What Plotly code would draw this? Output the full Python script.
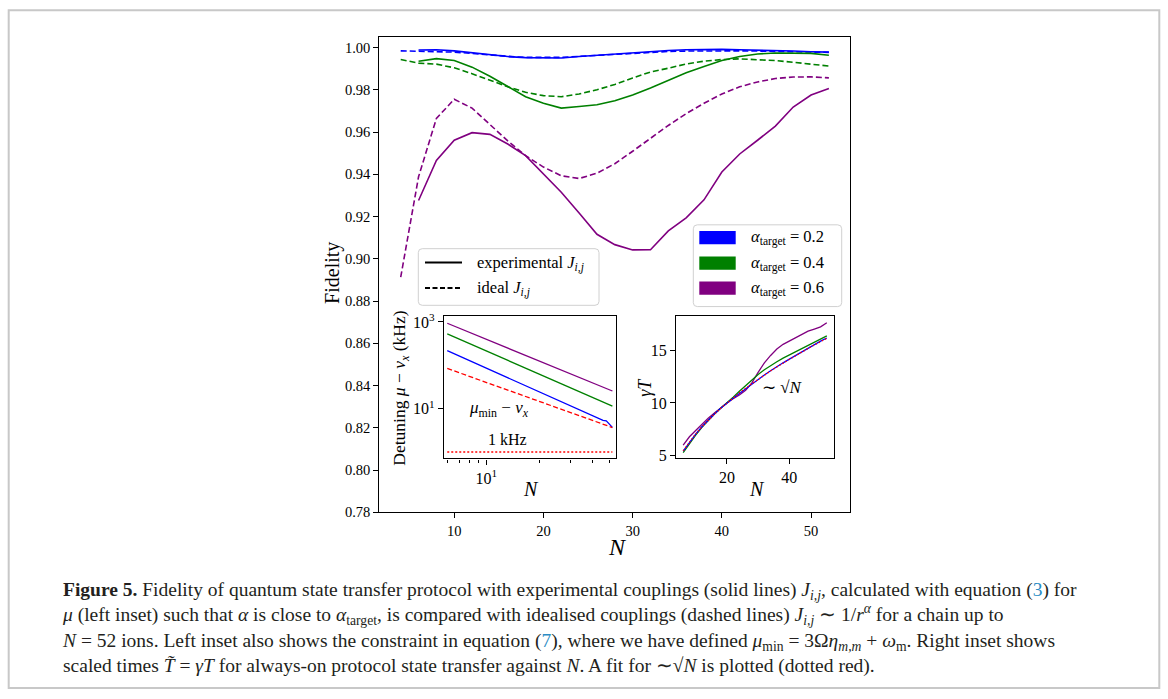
import plotly.graph_objects as go

W, H = 1168, 699

# ---------------- data ----------------
# chain lengths
N_ideal = [4, 6, 8, 10, 12, 14, 16, 18, 20, 22, 24, 26, 28, 30, 32, 34, 36, 38, 40, 42, 44, 46, 48, 50, 52]
N_exp = [6, 8, 10, 12, 14, 16, 18, 20, 22, 24, 26, 28, 30, 32, 34, 36, 38, 40, 42, 44, 46, 48, 50, 52]

# fidelity, experimental couplings (solid)
fid_exp_02 = [0.9988, 0.9989, 0.9984, 0.9974, 0.9964, 0.9957, 0.9952, 0.9950, 0.9950, 0.9957, 0.9963, 0.9971,
              0.9977, 0.9983, 0.9986, 0.9989, 0.9991, 0.9991, 0.9989, 0.9988, 0.9986, 0.9983, 0.9980, 0.9978]
fid_exp_04 = [0.9935, 0.9947, 0.9938, 0.9907, 0.9864, 0.9814, 0.9767, 0.9736, 0.9713, 0.9721, 0.9729, 0.9748,
              0.9775, 0.9808, 0.9845, 0.9880, 0.9910, 0.9938, 0.9957, 0.9969, 0.9974, 0.9974, 0.9972, 0.9963]
fid_exp_06 = [0.9276, 0.9465, 0.9561, 0.9597, 0.9589, 0.9543, 0.9488, 0.9403, 0.9315, 0.9217, 0.9116, 0.9067,
              0.9042, 0.9043, 0.9132, 0.9194, 0.9279, 0.9411, 0.9496, 0.9561, 0.9628, 0.9718, 0.9775, 0.9806]

# fidelity, ideal 1/r^alpha couplings (dashed)
fid_ideal_02 = [0.9984, 0.9983, 0.9981, 0.9978, 0.9972, 0.9964, 0.9958, 0.9953, 0.9952, 0.9953, 0.9958, 0.9963,
                0.9969, 0.9974, 0.9978, 0.9981, 0.9983, 0.9984, 0.9984, 0.9984, 0.9983, 0.9982, 0.9981, 0.9980, 0.9977]
fid_ideal_04 = [0.9943, 0.9926, 0.9921, 0.9904, 0.9876, 0.9845, 0.9814, 0.9788, 0.9772, 0.9767, 0.9780, 0.9800,
                0.9825, 0.9856, 0.9884, 0.9902, 0.9922, 0.9935, 0.9943, 0.9946, 0.9943, 0.9938, 0.9930, 0.9922, 0.9912]
fid_ideal_06 = [0.8913, 0.9388, 0.9664, 0.9755, 0.9713, 0.9636, 0.9558, 0.9488, 0.9434, 0.9393, 0.9380, 0.9405,
                0.9450, 0.9509, 0.9571, 0.9631, 0.9687, 0.9736, 0.9780, 0.9814, 0.9837, 0.9853, 0.9860, 0.9861, 0.9856]

# left inset: detuning mu - nu_x (kHz)
det_02 = [217, 128, 84.9, 60.8, 45.8, 35.9, 28.9, 23.8, 20.0, 17.1, 14.7, 12.9,
          11.3, 10.1, 9.0, 8.1, 7.35, 6.68, 6.11, 5.61, 5.35, 5.2, 4.3, 3.7]
det_04 = [531, 318, 214, 155, 117, 92.7, 75.2, 62.3, 52.6, 45.0, 39.1, 34.2,
          30.3, 27.0, 24.2, 21.9, 19.9, 18.1, 16.6, 15.3, 14.2, 13.1, 12.2, 11.4]
det_06 = [933, 578, 398, 294, 227, 182, 150, 125, 107, 92.7, 81.1, 71.6,
          63.8, 57.3, 51.8, 47.1, 43.0, 39.5, 36.5, 33.7, 31.3, 29.2, 27.2, 25.5]
mu_min = [84.5, 55.6, 40.3, 30.9, 24.6, 20.3, 17.1, 14.7, 12.8, 11.3, 10.0, 9.02,
          8.15, 7.42, 6.79, 6.25, 5.78, 5.36, 5.00, 4.67, 4.38, 4.11, 3.88, 3.66]
one_khz = [1.0] * len(N_exp)

# right inset: scaled transfer time gamma*T
gT_02 = [5.45, 6.30, 7.05, 7.75, 8.38, 8.95, 9.50, 10.0, 10.45, 10.9, 11.35, 11.8,
         12.25, 12.65, 13.05, 13.45, 13.8, 14.15, 14.5, 14.85, 15.2, 15.5, 15.85, 16.15]
gT_04 = [5.3, 6.15, 6.95, 7.7, 8.35, 8.95, 9.5, 10.0, 10.55, 11.1, 11.65, 12.2,
         12.7, 13.15, 13.55, 13.9, 14.25, 14.55, 14.85, 15.1, 15.4, 15.7, 16.0, 16.35]
gT_06 = [6.0, 6.8, 7.4, 8.0, 8.55, 9.05, 9.55, 10.0, 10.4, 10.75, 11.2, 11.9,
         12.9, 13.8, 14.5, 15.1, 15.55, 15.85, 16.15, 16.45, 16.8, 17.0, 17.2, 17.6]
gT_fit = [5.48, 6.32, 7.07, 7.75, 8.37, 8.94, 9.49, 10.0, 10.49, 10.95, 11.40, 11.83,
          12.25, 12.65, 13.04, 13.42, 13.78, 14.14, 14.49, 14.83, 15.17, 15.49, 15.81, 16.12]

alpha_labels = ["0.2", "0.4", "0.6"]
fid_ticks = [0.78, 0.80, 0.82, 0.84, 0.86, 0.88, 0.90, 0.92, 0.94, 0.96, 0.98, 1.00]
N_ticks = [10, 20, 30, 40, 50]

BLUE, GREEN, PURPLE, RED = "#0000ff", "#008000", "#800080", "#ff0000"
FONT = "Liberation Serif"


def px(x):
    return x / W


def py(y):
    return 1 - y / H


fig = go.Figure()


def line(x, y, color, axes, dash="solid", width=1.6):
    fig.add_trace(go.Scatter(x=x, y=y, mode="lines", xaxis=axes[0], yaxis=axes[1],
                             line=dict(color=color, width=width, dash=dash),
                             showlegend=False, hoverinfo="skip"))


# main panel
main = ("x", "y")
for exp, ideal, c in [(fid_exp_02, fid_ideal_02, BLUE), (fid_exp_04, fid_ideal_04, GREEN),
                      (fid_exp_06, fid_ideal_06, PURPLE)]:
    line(N_exp, exp, c, main)
    line(N_ideal, ideal, c, main, dash="6px,3px")

# left inset
left = ("x2", "y2")
for d, c in [(det_06, PURPLE), (det_04, GREEN), (det_02, BLUE)]:
    line(N_exp, d, c, left, width=1.3)
line(N_exp, mu_min, RED, left, dash="5px,2.5px", width=1.3)
line(N_exp, one_khz, RED, left, dash="2px,2px", width=1.6)

# right inset
right = ("x3", "y3")
for g, c in [(gT_06, PURPLE), (gT_04, GREEN), (gT_02, BLUE)]:
    line(N_exp, g, c, right, width=1.3)
line(N_exp, gT_fit, RED, right, dash="1.5px,2px", width=1.3)

axis_common = dict(showline=True, linecolor="black", linewidth=1.2, mirror=True, ticks="outside",
                   ticklen=5, tickwidth=1, tickcolor="black", showgrid=False, zeroline=False)
main_tick = dict(family=FONT, size=14.5, color="black")
inset_tick = dict(family=FONT, size=16, color="black")

fig.update_layout(
    width=W, height=H, margin=dict(l=0, r=0, t=0, b=0),
    font=dict(family=FONT, color="black"),
    paper_bgcolor="white", plot_bgcolor="white", showlegend=False,
    xaxis=dict(axis_common, domain=[px(379.3), px(850.3)], range=[1.6, 54.4],
               tickvals=N_ticks, anchor="y", tickfont=main_tick),
    yaxis=dict(axis_common, domain=[py(517), py(32.3)], range=[0.78, 1.0051],
               tickvals=fid_ticks, ticktext=[f"{v:.2f}" for v in fid_ticks], anchor="x",
               tickfont=main_tick),
    xaxis2=dict(axis_common, type="log", domain=[px(444), px(616)], range=[0.7597, 1.7364],
                tickvals=[10], ticktext=["10<sup>1</sup>"], anchor="y2", tickfont=inset_tick,
                minor=dict(tickvals=[6, 7, 8, 9, 20, 30, 40, 50], ticks="outside", ticklen=3,
                           tickcolor="black", tickwidth=0.8)),
    yaxis2=dict(axis_common, type="log", domain=[py(462), py(317)], range=[-0.149, 3.135],
                tickvals=[10, 1000], ticktext=["10<sup>1</sup>", "10<sup>3</sup>"], anchor="x2",
                tickfont=inset_tick),
    xaxis3=dict(axis_common, domain=[px(676), px(834)], range=[3.7, 54.3],
                tickvals=[20, 40], anchor="y3", tickfont=inset_tick),
    yaxis3=dict(axis_common, domain=[py(461.7), py(316.7)], range=[4.78, 18.25],
                tickvals=[5, 10, 15], anchor="x3", tickfont=inset_tick),
)

shapes = []
annotations = []


def text(x, y, s, size, angle=0, anchor="center", color="black"):
    annotations.append(dict(x=px(x), y=py(y), xref="paper", yref="paper", text=s, showarrow=False,
                            xanchor=anchor, yanchor="middle", textangle=angle, align="left",
                            font=dict(family=FONT, size=size, color=color)))


def round_box(x0, y0, x1, y1, r=4):
    X0, X1 = px(x0), px(x1)
    Y0, Y1 = py(y0), py(y1)
    rx, ry = r / W, r / H
    path = (f"M {X0+rx},{Y0} L {X1-rx},{Y0} Q {X1},{Y0} {X1},{Y0-ry} "
            f"L {X1},{Y1+ry} Q {X1},{Y1} {X1-rx},{Y1} L {X0+rx},{Y1} Q {X0},{Y1} {X0},{Y1+ry} "
            f"L {X0},{Y0-ry} Q {X0},{Y0} {X0+rx},{Y0} Z")
    shapes.append(dict(type="path", path=path, xref="paper", yref="paper",
                       line=dict(color="#d0d0d0", width=1), fillcolor="rgba(255,255,255,0.85)",
                       layer="above"))


# legend: line styles
round_box(418.3, 248.3, 599, 306)
shapes.append(dict(type="line", xref="paper", yref="paper", x0=px(425), x1=px(462), y0=py(262.3), y1=py(262.3),
                   line=dict(color="black", width=2), layer="above"))
shapes.append(dict(type="line", xref="paper", yref="paper", x0=px(425), x1=px(462), y0=py(288.3), y1=py(288.3),
                   line=dict(color="black", width=2, dash="5px,2.5px"), layer="above"))
text(475, 263, "experimental <i>J</i><sub><i>i,j</i></sub>", 16.5, anchor="left")
text(475, 289, "ideal <i>J</i><sub><i>i,j</i></sub>", 16.5, anchor="left")

# legend: target alpha
round_box(693.3, 224, 841.7, 307.3)
for yc, c, a in [(237, BLUE, alpha_labels[0]), (263, GREEN, alpha_labels[1]), (288.5, PURPLE, alpha_labels[2])]:
    shapes.append(dict(type="rect", xref="paper", yref="paper", x0=px(699.3), x1=px(735.7),
                       y0=py(yc + 6.7), y1=py(yc - 6.7), line=dict(width=0), fillcolor=c, layer="above"))
    text(749.3, yc, f"<i>α</i><sub>target</sub> = {a}", 16.5, anchor="left")

# axis titles and in-panel labels
text(333, 273, "Fidelity", 20, angle=-90)
text(617, 552, "<i>N</i>", 24)
text(401, 390, "Detuning <i>μ</i> − <i>ν</i><sub><i>x</i></sub> (kHz)", 17.5, angle=-90)
text(531, 493, "<i>N</i>", 20)
text(499, 412, "<i>μ</i><sub>min</sub> − <i>ν</i><sub><i>x</i></sub>", 17)
text(507, 443, "1 kHz", 16)
text(645, 390, "<i>γT</i>", 18, angle=-90)
text(757, 493, "<i>N</i>", 20)
text(782, 390, "∼ √<i>N</i>", 17)

# caption (one multi-line block)
CAP = "#231f20"
LINK = "#2a8cc4"
CAP_SIZE = 19.5
cap_lines = [
    "<b>Figure 5.</b> Fidelity of quantum state transfer protocol with experimental couplings (solid lines) "
    "<i>J</i><sub><i>i,j</i></sub>, calculated with equation (<span style='color:" + LINK + "'>3</span>) for",
    "<i>μ</i> (left inset) such that <i>α</i> is close to <i>α</i><sub>target</sub>, is compared with idealised "
    "couplings (dashed lines) <i>J</i><sub><i>i,j</i></sub> ∼ 1/<i>r</i><sup><i>α</i></sup> for a chain up to",
    "<i>N</i> = 52 ions. Left inset also shows the constraint in equation (<span style='color:" + LINK +
    "'>7</span>), where we have defined <i>μ</i><sub>min</sub> = 3Ω<i>η</i><sub><i>m,m</i></sub> + "
    "<i>ω</i><sub>m</sub>. Right inset shows",
    "scaled times <i>T\u0303</i> = <i>γT</i> for always-on protocol state transfer against <i>N</i>. "
    "A fit for ∼√<i>N</i> is plotted (dotted red).",
]
text(60, 635, "<br>".join(cap_lines), CAP_SIZE, anchor="left", color=CAP)

# page frame
shapes.append(dict(type="rect", xref="paper", yref="paper", x0=px(8.7), x1=px(1159.3), y0=py(696), y1=py(5.3),
                   line=dict(color="#c8c8c8", width=2), fillcolor="rgba(0,0,0,0)", layer="below"))

fig.update_layout(shapes=shapes, annotations=annotations)
fig.write_html("out.html")
